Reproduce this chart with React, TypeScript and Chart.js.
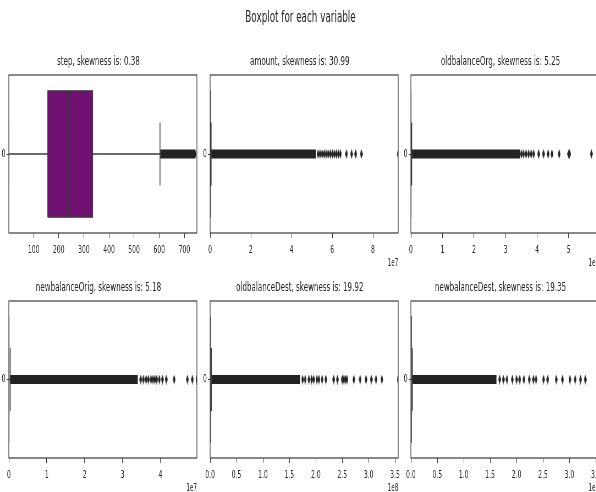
import React, { useEffect, useRef } from 'react';
import { Chart, registerables } from 'chart.js';

Chart.register(...registerables);

// ---------------- data ----------------
const MAIN_TITLE = 'Boxplot for each variable';
const VARIABLES = ['step', 'amount', 'oldbalanceOrg', 'newbalanceOrig', 'oldbalanceDest', 'newbalanceDest'];
const SKEWNESS = ['0.38', '30.99', '5.25', '5.18', '19.92', '19.35'];

// box statistics: [lower whisker, Q1, median, Q3, upper whisker]
const STEP_BOX = [1, 156, 239, 335, 603];
const AMOUNT_BOX = [0, 13390, 74872, 208721, 501719];
const OLDBALANCEORG_BOX = [0, 0, 14208, 107315, 268287];
const NEWBALANCEORIG_BOX = [0, 0, 0, 144258, 360646];
const OLDBALANCEDEST_BOX = [0, 0, 132706, 943037, 2357592];
const NEWBALANCEDEST_BOX = [0, 0, 214661, 1111909, 2779773];

// continuous run of overlapping fliers: [start, end]
const STEP_DENSE = [604, 743];
const AMOUNT_DENSE = [501719, 5.2e7];
const OLDBALANCEORG_DENSE = [268287, 3.45e7];
const NEWBALANCEORIG_DENSE = [360646, 3.4e7];
const OLDBALANCEDEST_DENSE = [2357592, 1.7e8];
const NEWBALANCEDEST_DENSE = [2779773, 1.62e8];

// separate flier markers
const STEP_FLIERS = [743];
const AMOUNT_FLIERS = [5.3e7, 5.4e7, 5.5e7, 5.6e7, 5.7e7, 5.8e7, 5.9e7, 6.0e7, 6.1e7, 6.2e7, 6.3e7, 6.4e7, 6.7e7, 6.95e7, 7.15e7, 7.43e7, 9.24e7];
const OLDBALANCEORG_FLIERS = [3.5e7, 3.57e7, 3.65e7, 3.73e7, 3.81e7, 3.89e7, 4.05e7, 4.2e7, 4.35e7, 4.47e7, 4.7e7, 5.0e7, 5.03e7, 5.72e7, 5.96e7];
const NEWBALANCEORIG_FLIERS = [3.48e7, 3.55e7, 3.62e7, 3.68e7, 3.75e7, 3.8e7, 3.85e7, 3.9e7, 3.97e7, 4.05e7, 4.15e7, 4.36e7, 4.71e7, 4.84e7, 4.96e7];
const OLDBALANCEDEST_FLIERS = [1.75e8, 1.8e8, 1.87e8, 1.92e8, 1.96e8, 2.02e8, 2.06e8, 2.12e8, 2.19e8, 2.34e8, 2.41e8, 2.5e8, 2.53e8, 2.56e8, 2.59e8, 2.72e8, 2.84e8, 2.95e8, 3.05e8, 3.14e8, 3.25e8, 3.56e8];
const NEWBALANCEDEST_FLIERS = [1.68e8, 1.75e8, 1.82e8, 1.92e8, 2.0e8, 2.06e8, 2.14e8, 2.24e8, 2.32e8, 2.37e8, 2.51e8, 2.59e8, 2.75e8, 2.87e8, 3.01e8, 3.11e8, 3.21e8, 3.3e8, 3.56e8];

// x-axis ranges
const STEP_RANGE = [1, 750];
const AMOUNT_RANGE = [0, 9.24e7];
const OLDBALANCEORG_RANGE = [0, 5.96e7];
const NEWBALANCEORIG_RANGE = [0, 4.96e7];
const OLDBALANCEDEST_RANGE = [0, 3.56e8];
const NEWBALANCEDEST_RANGE = [0, 3.56e8];

// ticks
const STEP_TICKS = [100, 200, 300, 400, 500, 600, 700];
const STEP_TICK_LABELS = ['100', '200', '300', '400', '500', '600', '700'];
const AMOUNT_TICKS = [0, 2e7, 4e7, 6e7, 8e7];
const AMOUNT_TICK_LABELS = ['0', '2', '4', '6', '8'];
const OLDBALANCEORG_TICKS = [0, 1e7, 2e7, 3e7, 4e7, 5e7];
const OLDBALANCEORG_TICK_LABELS = ['0', '1', '2', '3', '4', '5'];
const NEWBALANCEORIG_TICKS = [0, 1e7, 2e7, 3e7, 4e7];
const NEWBALANCEORIG_TICK_LABELS = ['0', '1', '2', '3', '4'];
const OLDBALANCEDEST_TICKS = [0, 0.5e8, 1e8, 1.5e8, 2e8, 2.5e8, 3e8, 3.5e8];
const OLDBALANCEDEST_TICK_LABELS = ['0.0', '0.5', '1.0', '1.5', '2.0', '2.5', '3.0', '3.5'];
const NEWBALANCEDEST_TICKS = [0, 0.5e8, 1e8, 1.5e8, 2e8, 2.5e8, 3e8, 3.5e8];
const NEWBALANCEDEST_TICK_LABELS = ['0.0', '0.5', '1.0', '1.5', '2.0', '2.5', '3.0', '3.5'];
const OFFSET_LABELS = ['', '1e7', '1e7', '1e7', '1e8', '1e8'];
const CATEGORY_LABEL = '0';
const BOX_WIDTH = 0.8;

const PANELS = [
  { box: STEP_BOX, dense: STEP_DENSE, fliers: STEP_FLIERS, range: STEP_RANGE, ticks: STEP_TICKS, labels: STEP_TICK_LABELS },
  { box: AMOUNT_BOX, dense: AMOUNT_DENSE, fliers: AMOUNT_FLIERS, range: AMOUNT_RANGE, ticks: AMOUNT_TICKS, labels: AMOUNT_TICK_LABELS },
  { box: OLDBALANCEORG_BOX, dense: OLDBALANCEORG_DENSE, fliers: OLDBALANCEORG_FLIERS, range: OLDBALANCEORG_RANGE, ticks: OLDBALANCEORG_TICKS, labels: OLDBALANCEORG_TICK_LABELS },
  { box: NEWBALANCEORIG_BOX, dense: NEWBALANCEORIG_DENSE, fliers: NEWBALANCEORIG_FLIERS, range: NEWBALANCEORIG_RANGE, ticks: NEWBALANCEORIG_TICKS, labels: NEWBALANCEORIG_TICK_LABELS },
  { box: OLDBALANCEDEST_BOX, dense: OLDBALANCEDEST_DENSE, fliers: OLDBALANCEDEST_FLIERS, range: OLDBALANCEDEST_RANGE, ticks: OLDBALANCEDEST_TICKS, labels: OLDBALANCEDEST_TICK_LABELS },
  { box: NEWBALANCEDEST_BOX, dense: NEWBALANCEDEST_DENSE, fliers: NEWBALANCEDEST_FLIERS, range: NEWBALANCEDEST_RANGE, ticks: NEWBALANCEDEST_TICKS, labels: NEWBALANCEDEST_TICK_LABELS },
];

// ---------------- layout & style ----------------
const FIG_W = 596;
const FIG_H = 492;
const SQUEEZE = 0.55;
const AXES_LEFT = [9, 210, 411, 9, 210, 411];
const AXES_WIDTH = 188;
const AXES_TOP = [75, 75, 75, 301, 301, 301];
const AXES_BOTTOM = [233, 233, 233, 458, 458, 458];
const Y_AXIS_W = 16;
const X_AXIS_H = 40;
const TITLE_SIZE = 13;
const TITLE_GAP = 5.4;
const RIGHT_PAD = 16;
const FONT = "'DejaVu Sans', sans-serif";
const TEXT_COLOR = '#262626';
const SPINE_COLOR = '#3a3a3a';
const BOX_FILL = '#701070';
const EDGE_COLOR = '#3d3d3d';
const FLIER_COLOR = '#232323';
const BAND_THICKNESS = 9;

function makeDiamond(): HTMLCanvasElement {
  const c = document.createElement('canvas');
  c.width = 5;
  c.height = 10;
  const ctx = c.getContext('2d')!;
  ctx.fillStyle = FLIER_COLOR;
  ctx.beginPath();
  ctx.moveTo(2.5, 0);
  ctx.lineTo(5, 5);
  ctx.lineTo(2.5, 10);
  ctx.lineTo(0, 5);
  ctx.closePath();
  ctx.fill();
  return c;
}

const framePlugin = {
  id: 'frame',
  afterDraw(chart: any) {
    const { ctx, chartArea: a } = chart;
    ctx.save();
    ctx.strokeStyle = SPINE_COLOR;
    ctx.lineWidth = 1.2;
    ctx.strokeRect(a.left, a.top, a.right - a.left, a.bottom - a.top);
    ctx.restore();
  },
};

function Panel({ i }: { i: number }) {
  const ref = useRef<HTMLCanvasElement>(null);
  const titleBlock = TITLE_SIZE * 1.2 + TITLE_GAP;
  const plotW = Math.round(AXES_WIDTH / SQUEEZE);
  const plotH = AXES_BOTTOM[i] - AXES_TOP[i];
  const w = Y_AXIS_W + plotW + RIGHT_PAD;
  const h = Math.round(titleBlock + plotH + X_AXIS_H);
  const left = Math.round(AXES_LEFT[i] / SQUEEZE) - Y_AXIS_W;
  const top = AXES_TOP[i] - titleBlock;

  useEffect(() => {
    const p = PANELS[i];
    const [wlo, q1, med, q3, whi] = p.box;
    const hw = BOX_WIDTH / 2;
    const cw = BOX_WIDTH / 4;
    const diamond = makeDiamond();
    const boxPts = [
      { x: q1, y: -hw }, { x: q3, y: -hw }, { x: q3, y: hw }, { x: q1, y: hw }, { x: q1, y: -hw },
    ];
    const medianPts = [{ x: med, y: -hw }, { x: med, y: hw }];
    const whiskerPts = [
      { x: wlo, y: 0 }, { x: q1, y: 0 }, { x: q1, y: null },
      { x: q3, y: 0 }, { x: whi, y: 0 }, { x: whi, y: null },
      { x: wlo, y: -cw }, { x: wlo, y: cw }, { x: wlo, y: null },
      { x: whi, y: -cw }, { x: whi, y: cw },
    ];
    const densePts = [{ x: p.dense[0], y: 0 }, { x: p.dense[1], y: 0 }];
    const flierPts = p.fliers.map((v) => ({ x: v, y: 0 }));

    const offset = OFFSET_LABELS[i];
    const chart = new Chart(ref.current!, {
      type: 'line',
      data: {
        datasets: [
          { data: medianPts, borderColor: EDGE_COLOR, borderWidth: 1.3, pointRadius: 0, fill: false, order: 0 } as any,
          { data: whiskerPts, borderColor: EDGE_COLOR, borderWidth: 1.5, pointRadius: 0, fill: false, spanGaps: false, order: 1 } as any,
          { data: boxPts, borderColor: EDGE_COLOR, borderWidth: 1.3, backgroundColor: BOX_FILL, fill: 'shape', pointRadius: 0, order: 2 } as any,
          { data: densePts, borderColor: FLIER_COLOR, borderWidth: BAND_THICKNESS, borderCapStyle: 'butt', pointRadius: 0, fill: false, order: 3 } as any,
          { data: flierPts, showLine: false, pointStyle: diamond, pointRadius: 4.5, pointHoverRadius: 4.5, clip: 0, order: 4 } as any,
        ],
      },
      options: {
        animation: false,
        responsive: false,
        maintainAspectRatio: false,
        devicePixelRatio: 1,
        events: [],
        layout: { padding: { left: 0, right: RIGHT_PAD, top: 0, bottom: 0 } },
        plugins: {
          legend: { display: false },
          tooltip: { enabled: false },
          title: {
            display: true,
            text: `${VARIABLES[i]}, skewness is: ${SKEWNESS[i]}`,
            font: { family: FONT, size: TITLE_SIZE, weight: 'normal' as any },
            color: TEXT_COLOR,
            padding: { top: 0, bottom: TITLE_GAP },
          },
        },
        scales: {
          x: {
            type: 'linear',
            min: p.range[0],
            max: p.range[1],
            afterBuildTicks: (s: any) => {
              s.ticks = p.ticks.map((v) => ({ value: v }));
            },
            afterFit: (s: any) => {
              s.height = X_AXIS_H;
              s.paddingLeft = 0;
              s.paddingRight = 0;
            },
            ticks: {
              autoSkip: false,
              maxRotation: 0,
              minRotation: 0,
              padding: 6,
              color: TEXT_COLOR,
              font: { family: FONT, size: 11 },
              callback: (v: any) => p.labels[p.ticks.indexOf(Number(v))],
            },
            grid: { display: true, drawOnChartArea: false, drawTicks: true, tickLength: 5, color: SPINE_COLOR },
            border: { display: false },
            title: {
              display: offset !== '',
              text: offset,
              align: 'end',
              color: TEXT_COLOR,
              font: { family: FONT, size: 10 },
              padding: { top: 0, bottom: 4 },
            },
          },
          y: {
            type: 'linear',
            min: -0.5,
            max: 0.5,
            afterBuildTicks: (s: any) => {
              s.ticks = [{ value: 0 }];
            },
            afterFit: (s: any) => {
              s.width = Y_AXIS_W;
              s.paddingTop = 0;
              s.paddingBottom = 0;
            },
            ticks: {
              padding: 2,
              color: TEXT_COLOR,
              font: { family: FONT, size: 11 },
              callback: () => CATEGORY_LABEL,
            },
            grid: { display: true, drawOnChartArea: false, drawTicks: true, tickLength: 4, color: SPINE_COLOR },
            border: { display: false },
          },
        },
      } as any,
      plugins: [framePlugin],
    });
    return () => chart.destroy();
  }, [i]);

  return (
    <canvas
      ref={ref}
      width={w}
      height={h}
      style={{ position: 'absolute', left, top, width: w, height: h }}
    />
  );
}

export default function App() {
  const innerW = FIG_W / SQUEEZE;
  const titleCenter = 300.5 / SQUEEZE;
  return (
    <div style={{ position: 'absolute', left: 0, top: 0, width: FIG_W, height: FIG_H, overflow: 'hidden', background: '#fff' }}>
      <div
        style={{
          position: 'absolute',
          left: 0,
          top: 0,
          width: innerW,
          height: FIG_H,
          transform: `scaleX(${SQUEEZE})`,
          transformOrigin: '0 0',
        }}
      >
        <div
          style={{
            position: 'absolute',
            left: titleCenter - 300,
            width: 600,
            top: 7,
            textAlign: 'center',
            fontFamily: FONT,
            fontSize: 16,
            lineHeight: '20px',
            color: TEXT_COLOR,
          }}
        >
          {MAIN_TITLE}
        </div>
        {PANELS.map((_, i) => (
          <Panel key={i} i={i} />
        ))}
      </div>
    </div>
  );
}
